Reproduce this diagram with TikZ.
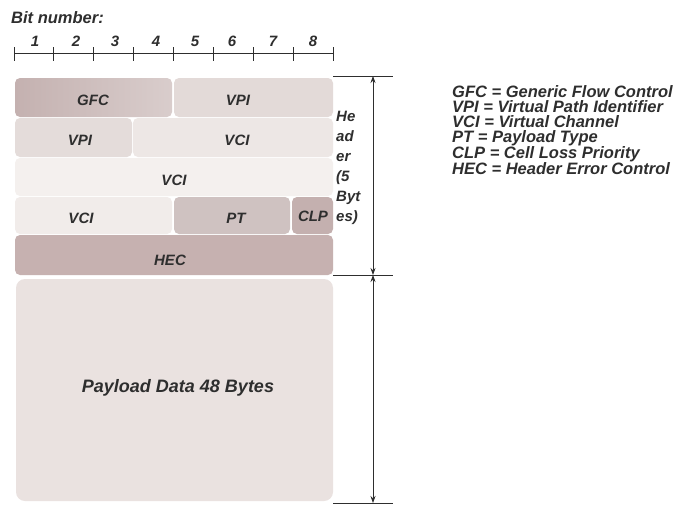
\documentclass[tikz,border=0pt]{standalone}
\usepackage{fontspec}
\setmainfont{Liberation Sans}
\usetikzlibrary{arrows.meta}
\definecolor{cgfcL}{HTML}{C4B1B0}
\definecolor{cgfcR}{HTML}{D9CDCC}
\definecolor{cvpiA}{HTML}{E3DAD8}
\definecolor{cvpiB}{HTML}{E4DCDA}
\definecolor{cvciB}{HTML}{EDE7E5}
\definecolor{cvciC}{HTML}{F4F0EE}
\definecolor{cvciD}{HTML}{F1ECEA}
\definecolor{cpt}{HTML}{CFC2C1}
\definecolor{cclp}{HTML}{C4B0AF}
\definecolor{chec}{HTML}{C6B1B0}
\definecolor{cpay}{HTML}{EAE2E0}
\definecolor{ink}{HTML}{2E2E2E}
\begin{document}
\begin{tikzpicture}[x=1pt,y=-1pt,
  lbl/.style={font=\fontsize{15}{15}\selectfont\bfseries\itshape, text=ink, inner sep=0pt},
  box/.style={rounded corners=5pt},
  dim/.style={draw=ink, line width=0.7pt},
  dimarrow/.style={draw=ink, line width=0.7pt, {Stealth[length=7pt,width=5pt]}-{Stealth[length=7pt,width=5pt]}}
]
\useasboundingbox (0,0) rectangle (678,504);
\fill[white] (0,0) rectangle (678,504);

% ruler
\node[lbl, font=\fontsize{16.5}{16.5}\selectfont\bfseries\itshape, anchor=west] (bitnum) at (11,18) {Bit number:};
\coordinate (r0) at (14,53);
\coordinate (r8) at (333,53);
\draw[ink, line width=0.8pt] (r0) -- (r8);
\foreach \i/\x in {0/14,1/53,2/93,3/133,4/173,5/213,6/253,7/293,8/333}{
  \coordinate (t\i) at (\x,53);
  \draw[ink, line width=0.8pt] (\x,47) -- (\x,61);
}
\foreach \n/\x in {1/35,2/76,3/115,4/156,5/195,6/232,7/273,8/313}{
  \node[lbl, font=\fontsize{15}{15}\selectfont\bfseries\itshape] (b\n) at (\x,41) {\n};
}

% header rows
\shade[box, left color=cgfcL, right color=cgfcR] (15,78) rectangle (172,117);
\fill[box, cvpiA] (174,78) rectangle (333,117);
\fill[box, cvpiB] (15,118) rectangle (132,157);
\fill[box, cvciB] (133,118) rectangle (333,157);
\fill[box, cvciC] (15,158) rectangle (333,196);
\fill[box, cvciD] (15,197) rectangle (172,234);
\fill[box, cpt] (174,197) rectangle (290,234);
\fill[box, cclp] (292,197) rectangle (333,234);
\fill[box, chec] (15,235) rectangle (333,275);
% payload
\fill[box, rounded corners=9pt, cpay] (16,279) rectangle (333,501);

\node[lbl] (gfc) at (93,100) {GFC};
\node[lbl] (vpi1) at (238,100) {VPI};
\node[lbl] (vpi2) at (80,140) {VPI};
\node[lbl] (vci2) at (237,140) {VCI};
\node[lbl] (vci3) at (174,180) {VCI};
\node[lbl] (vci4) at (81,218) {VCI};
\node[lbl] (pt) at (236,218) {PT};
\node[lbl] (clp) at (313,216) {CLP};
\node[lbl] (hec) at (170,260) {HEC};
\node[lbl, font=\fontsize{18}{18}\selectfont\bfseries\itshape] (payload) at (178,388) {Payload Data 48 Bytes};

% header label
\node[lbl, anchor=north west, align=left, font=\fontsize{15}{20}\selectfont\bfseries\itshape] (hdr) at (336,111) {He\\ad\\er\\(5\\Byt\\es)};

% dimension lines
\coordinate (hA) at (333,76);
\coordinate (hB) at (393,76);
\coordinate (mA) at (333,275);
\coordinate (mB) at (393,275);
\coordinate (pA) at (333,503);
\coordinate (pB) at (393,503);
\draw[dim] (hA) -- (hB);
\draw[dim] (mA) -- (mB);
\draw[dim] (pA) -- (pB);
\coordinate (a1) at (373,76);
\coordinate (a2) at (373,275);
\coordinate (a3) at (373,503);
\draw[dimarrow] (a1) -- (a2);
\draw[dimarrow] (a2) -- (a3);

% legend
\node[lbl, anchor=north west, align=left, font=\fontsize{16.5}{15}\selectfont\bfseries\itshape] (legend) at (452,85) {GFC = Generic Flow Control\\VPI = Virtual Path Identifier\\VCI = Virtual Channel\\PT = Payload Type\\CLP = Cell Loss Priority\\HEC = Header Error Control};
\end{tikzpicture}
\end{document}
